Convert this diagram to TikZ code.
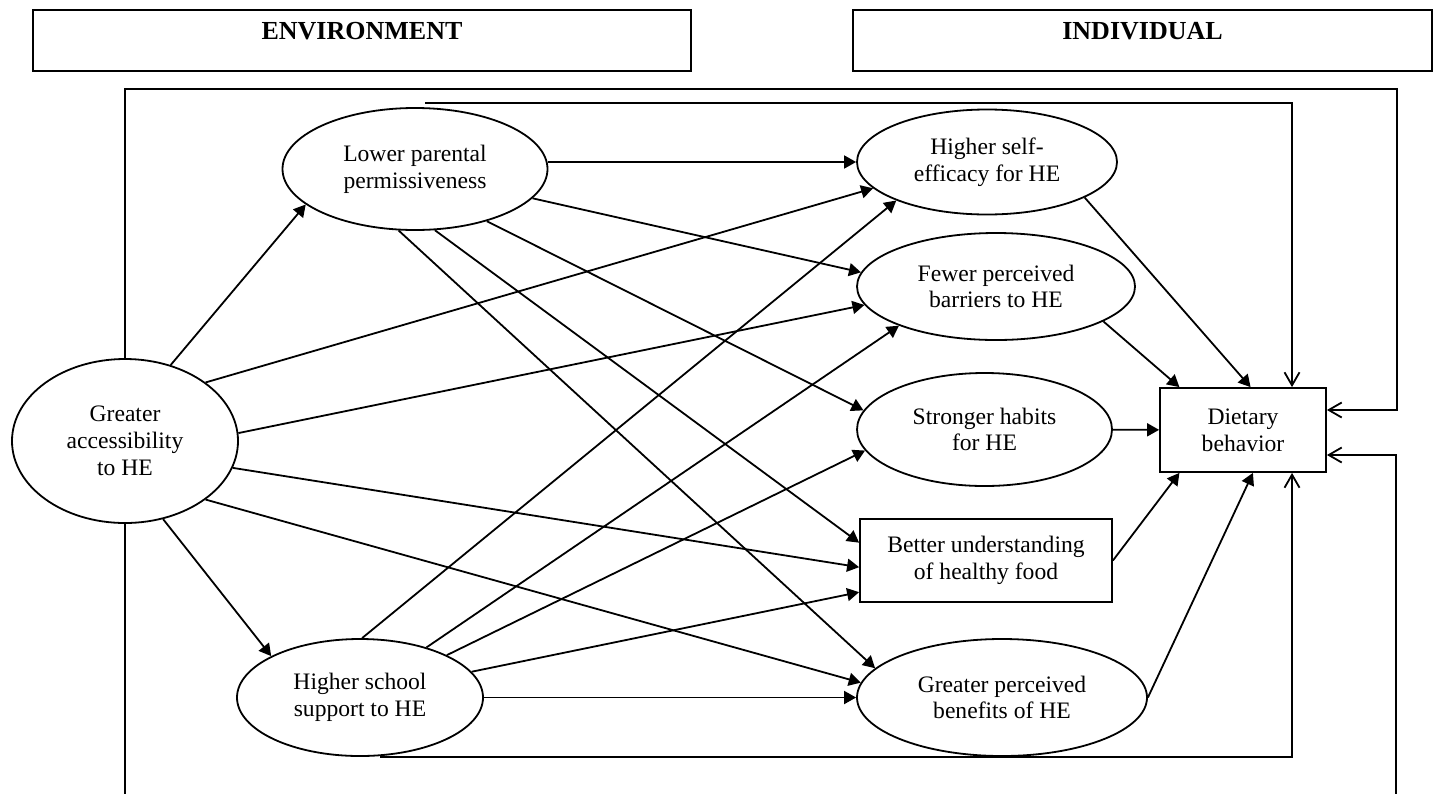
\documentclass[tikz,border=0pt]{standalone}
\usepackage{fontspec}
\setmainfont{Liberation Serif}
\usetikzlibrary{shapes.geometric, arrows.meta}

\tikzset{
  factor/.style={ellipse, draw, align=center, inner sep=0pt},
  measure/.style={rectangle, draw, align=center, inner sep=0pt},
  header/.style={rectangle, draw, line width=1.1pt, font=\fontsize{13}{15}\selectfont\bfseries, minimum height=30.5pt, text height=9pt, text depth=10pt},
  fb/.style={-{Straight Barb[length=6.5pt,width=7.5pt]}}
}

\begin{document}
\begin{tikzpicture}[x=0.5pt, y=-0.5pt, ->, >={Triangle[length=6pt,width=6.5pt]}, line width=0.9pt, font=\fontsize{11.8}{13.4}\selectfont]
    \useasboundingbox (0,0) rectangle (1438,793);

    \node[header, minimum width=329pt] (env) at (362,40.5) {ENVIRONMENT};
    \node[header, minimum width=289.5pt] (ind) at (1142.5,40.5) {INDIVIDUAL};

    \node[factor, minimum width=113pt, minimum height=82pt] (GA) at (125,441) {Greater\\accessibility\\to HE};
    \node[factor, minimum width=132.5pt, minimum height=61pt] (LP) at (415,169) {Lower parental\\permissiveness};
    \node[factor, minimum width=123pt, minimum height=58.5pt] (HS) at (360,697.5) {Higher school\\support to HE};
    \node[factor, minimum width=130pt, minimum height=52.5pt] (HSE) at (987,162) {Higher self-\\efficacy for HE};
    \node[factor, minimum width=139pt, minimum height=53.5pt] (FPB) at (996,286.5) {Fewer perceived\\barriers to HE};
    \node[factor, minimum width=127.5pt, minimum height=56.5pt] (SH) at (984.5,429.5) {Stronger habits\\for HE};
    \node[measure, minimum width=126pt, minimum height=41.5pt] (BU) at (986,560.5) {Better understanding\\of healthy food};
    \node[factor, minimum width=145pt, minimum height=58.5pt] (GPB) at (1002,697.5) {Greater perceived\\benefits of HE};
    \node[measure, minimum width=83pt, minimum height=42pt] (DB) at (1243,430) {Dietary\\behavior};

    \draw (GA.59) -- (LP.198);
    \draw (GA.36) -- (HSE.193);
    \draw (GA.4) -- (FPB.188);
    \draw (GA.346) -- (BU.183);
    \draw (GA.324) -- (GPB.174);
    \draw (GA.296) -- (HS.155);

    \draw (LP.east |- HSE.west) -- (HSE.west);
    \draw (LP.346) -- (FPB.174);
    \draw (LP.324) -- (SH.171);
    \draw (LP.288) -- (BU.172);
    \draw (LP.255) -- (GPB.167);

    \draw (HS.88) -- (HSE.203);
    \draw (HS.37) -- (FPB.202);
    \draw (HS.26) -- (SH.190);
    \draw (HS.13) -- (BU.194);
    \draw (HS) -- (GPB);

    \draw (HSE.340) -- (DB.80);
    \draw (FPB.342) -- (DB.146);
    \draw (SH) -- (DB);
    \draw (BU.east) -- (DB.214);
    \draw (GPB.east) -- (DB.283);

    \coordinate (topR) at (1397,89);
    \coordinate (botR) at (1396,815);
    \draw[fb] (GA.north) |- (topR) |- ([yshift=10pt]DB.east);
    \draw[fb] ([xshift=5pt,yshift=2pt]LP.north) -| ([xshift=24.5pt]DB.north);
    \draw[fb] ([xshift=10pt]HS.south) -| ([xshift=24.5pt]DB.south);
    \draw[fb] (GA.south) |- (botR) |- ([yshift=-12.5pt]DB.east);
\end{tikzpicture}
\end{document}
